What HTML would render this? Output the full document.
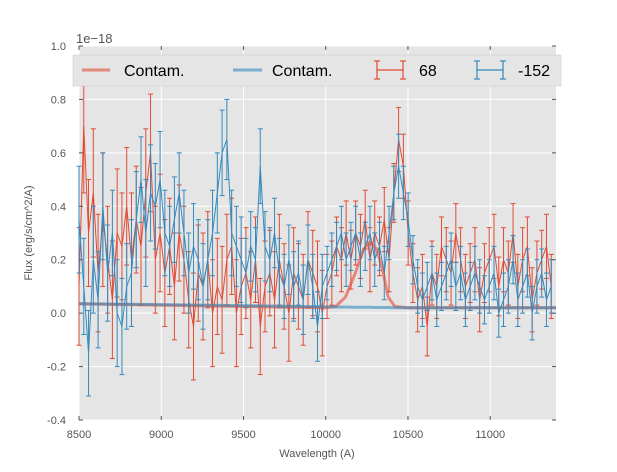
<!DOCTYPE html>
<html><head><meta charset="utf-8"><style>
body{margin:0;background:#fff;width:617px;height:467px;overflow:hidden;font-family:"Liberation Sans","DejaVu Sans",sans-serif}
svg text{font-family:"Liberation Sans","DejaVu Sans",sans-serif}
</style></head><body>
<svg id="chart" width="617" height="467" xmlns="http://www.w3.org/2000/svg">
<rect x="79" y="46" width="477" height="374" fill="#e5e5e5"/>
<g id="grid"></g>
<g id="marks"></g>
<g id="axes"></g>
<text x="76" y="43" font-size="13" fill="#555">1e−18</text>
<text x="317" y="457" font-size="11" fill="#555" text-anchor="middle">Wavelength (A)</text>
<text transform="translate(32,233) rotate(-90)" font-size="11" fill="#555" text-anchor="middle">Flux (erg/s/cm^2/A)</text>
<g>
<rect x="73" y="55" width="488" height="31" fill="#e5e5e5" stroke="#ccc" stroke-width="0.5"/>
<g><line x1="82" y1="70" x2="110" y2="70" stroke="#E24A33" stroke-opacity="0.6" stroke-width="3"/><text x="124" y="76" font-size="16" fill="#000">Contam.</text></g>
<g><line x1="233" y1="70" x2="262" y2="70" stroke="#348ABD" stroke-opacity="0.6" stroke-width="3"/><text x="272" y="76" font-size="16" fill="#000">Contam.</text></g>
<g stroke="#E24A33" stroke-width="1.2"><line x1="377" y1="70" x2="403" y2="70"/><line x1="377" y1="61" x2="377" y2="79"/><line x1="403" y1="61" x2="403" y2="79"/><line x1="374" y1="61" x2="380" y2="61"/><line x1="374" y1="79" x2="380" y2="79"/><line x1="400" y1="61" x2="406" y2="61"/><line x1="400" y1="79" x2="406" y2="79"/></g>
<text x="419" y="76" font-size="16" fill="#000">68</text>
<g stroke="#348ABD" stroke-width="1.2"><line x1="477" y1="70" x2="503" y2="70"/><line x1="477" y1="61" x2="477" y2="79"/><line x1="503" y1="61" x2="503" y2="79"/><line x1="474" y1="61" x2="480" y2="61"/><line x1="474" y1="79" x2="480" y2="79"/><line x1="500" y1="61" x2="506" y2="61"/><line x1="500" y1="79" x2="506" y2="79"/></g>
<text x="518" y="76" font-size="16" fill="#000">-152</text>
</g>
</svg>
<script>
const wStart=8500, wStep=29;
const xTicks=[8500,9000,9500,10000,10500,11000];
const yTicks=[-0.4,-0.2,0.0,0.2,0.4,0.6,0.8,1.0];
const redFlux=[0.1,0.7,0.3,0.45,0.15,0.35,0.2,0.05,0.3,0.25,0.4,0.2,0.35,0.25,0.45,0.6,0.2,0.3,
0.15,0.25,0.1,0.3,0.2,0.05,-0.05,0.15,0.1,0.2,0.0,0.1,0.05,0.2,0.25,0.0,0.1,
0.15,0.05,0.2,-0.05,0.1,0.15,0.05,0.2,0.1,0.0,0.15,0.1,0.05,0.2,0.15,0.1,0.0,
0.1,0.15,0.25,0.2,0.3,0.2,0.3,0.25,0.35,0.2,0.3,0.25,0.35,0.2,0.45,0.65,0.55,
0.3,0.15,0.05,0.1,-0.05,0.15,0.1,0.25,0.2,0.15,0.3,0.2,0.1,0.15,0.2,0.05,0.15,
0.2,0.25,0.1,0.2,0.15,0.3,0.1,0.2,0.25,0.05,0.15,0.2,0.25,0.1];
const redErr=[0.22,0.25,0.2,0.24,0.22,0.25,0.2,0.22,0.24,0.2,0.22,0.25,0.2,0.22,0.24,0.22,0.2,0.22,
0.2,0.18,0.2,0.18,0.2,0.18,0.2,0.18,0.2,0.18,0.2,0.18,0.2,0.17,0.18,0.2,0.18,
0.17,0.18,0.16,0.18,0.17,0.16,0.18,0.17,0.16,0.18,0.17,0.16,0.17,0.18,0.16,0.17,0.16,
0.12,0.12,0.11,0.12,0.12,0.11,0.12,0.12,0.11,0.12,0.12,0.11,0.12,0.12,0.11,0.12,0.12,
0.12,0.11,0.12,0.12,0.11,0.12,0.12,0.11,0.12,0.12,0.11,0.12,0.12,0.11,0.12,0.12,0.11,
0.12,0.12,0.11,0.12,0.12,0.11,0.12,0.12,0.11,0.12,0.12,0.11,0.12,0.12];
const blueFlux=[0.35,0.1,-0.15,0.2,0.05,0.4,0.15,0.3,0.0,-0.05,0.1,0.15,0.35,0.5,0.3,0.45,0.4,0.5,
0.3,0.25,0.35,0.45,0.3,0.15,0.25,0.2,0.1,0.2,0.3,0.45,0.6,0.65,0.3,0.25,0.2,
0.15,0.25,0.2,0.55,0.25,0.2,0.3,0.15,0.1,0.2,0.1,0.15,0.05,0.2,0.1,-0.05,0.1,
0.15,0.2,0.25,0.3,0.2,0.25,0.3,0.2,0.25,0.3,0.2,0.25,0.15,0.3,0.45,0.55,0.45,
0.35,0.2,0.1,0.05,0.1,0.15,0.05,0.1,0.15,0.2,0.1,0.15,0.05,0.1,0.15,0.1,0.05,
0.1,0.15,0.0,0.05,0.1,0.2,0.05,0.1,0.15,0.0,0.1,0.15,0.05,0.1];
const blueErr=[0.2,0.18,0.16,0.2,0.18,0.2,0.18,0.16,0.2,0.18,0.16,0.2,0.18,0.16,0.2,0.18,0.16,0.18,
0.16,0.15,0.16,0.15,0.16,0.15,0.16,0.15,0.16,0.15,0.16,0.15,0.16,0.15,0.16,0.15,0.16,
0.13,0.13,0.12,0.14,0.13,0.12,0.13,0.13,0.12,0.13,0.13,0.12,0.13,0.13,0.12,0.13,0.12,
0.1,0.1,0.09,0.1,0.1,0.09,0.1,0.1,0.09,0.1,0.1,0.09,0.1,0.1,0.1,0.12,0.1,
0.1,0.09,0.1,0.1,0.09,0.1,0.1,0.09,0.1,0.1,0.09,0.1,0.1,0.09,0.1,0.1,0.09,
0.1,0.1,0.09,0.1,0.1,0.09,0.1,0.1,0.09,0.1,0.1,0.09,0.1,0.1];
const contamWave=[8500,9000,9500,10000,10060,10120,10180,10230,10270,10310,10350,10380,10420,10500,11400];
const contamRed=[0.035,0.03,0.025,0.02,0.025,0.06,0.15,0.24,0.265,0.24,0.15,0.06,0.025,0.02,0.02];
const contamBlue=[0.035,0.032,0.028,0.024,0.023,0.023,0.022,0.022,0.022,0.021,0.021,0.021,0.02,0.02,0.02];
const X0=79,X1=556,Y0=46,Y1=420, wMin=8500,wMax=11400,fMin=-0.4,fMax=1.0;
const xs=w=>X0+(w-wMin)/(wMax-wMin)*(X1-X0);
const ys=f=>Y1-(f-fMin)/(fMax-fMin)*(Y1-Y0);
const NS='http://www.w3.org/2000/svg';
function mk(tag,attrs,parent){const e=document.createElementNS(NS,tag);for(const k in attrs)e.setAttribute(k,attrs[k]);parent.appendChild(e);return e;}
const grid=document.getElementById('grid'),axes=document.getElementById('axes'),marks=document.getElementById('marks');
xTicks.forEach(t=>{const x=xs(t);
const g=mk('line',{x1:x,x2:x,y1:Y0,y2:Y1,stroke:'#fff','stroke-width':1},grid);


mk('line',{x1:x,x2:x,y1:Y1,y2:Y1-4,stroke:'#555'},axes);mk('line',{x1:x,x2:x,y1:Y0,y2:Y0+4,stroke:'#555'},axes);
const l=mk('text',{x:x,y:438,'font-size':11,fill:'#555','text-anchor':'middle'},axes);l.textContent=t;

});
yTicks.forEach(t=>{const y=ys(t);
const g=mk('line',{x1:X0,x2:X1,y1:y,y2:y,stroke:'#fff','stroke-width':1},grid);


mk('line',{x1:X0,x2:X0+4,y1:y,y2:y,stroke:'#555'},axes);mk('line',{x1:X1,x2:X1-4,y1:y,y2:y,stroke:'#555'},axes);
const l=mk('text',{x:66,y:y+4,'font-size':11,fill:'#555','text-anchor':'end'},axes);l.textContent=t.toFixed(1);

});
function contam(arr,color,name){const p=mk('polyline',{points:contamWave.map((w,i)=>xs(w)+','+ys(arr[i])).join(' '),fill:'none',stroke:color,'stroke-opacity':0.6,'stroke-width':3},marks);

}
function series(flux,err,color,name){const g=mk('g',{stroke:color,'stroke-width':1,fill:'none'},marks);


flux.forEach((f,i)=>{const x=xs(wStart+i*wStep),a=ys(f+err[i]),b=ys(f-err[i]);
mk('line',{x1:x,x2:x,y1:a,y2:b},g);mk('line',{x1:x-2.5,x2:x+2.5,y1:a,y2:a},g);mk('line',{x1:x-2.5,x2:x+2.5,y1:b,y2:b},g);});
mk('polyline',{points:flux.map((f,i)=>xs(wStart+i*wStep)+','+ys(f)).join(' ')},g);}
series(redFlux,redErr,'#E24A33','series-68');
series(blueFlux,blueErr,'#348ABD','series-152');
contam(contamRed,'#E24A33','contam-red-line');
contam(contamBlue,'#348ABD','contam-blue-line');
</script>
</body></html>
